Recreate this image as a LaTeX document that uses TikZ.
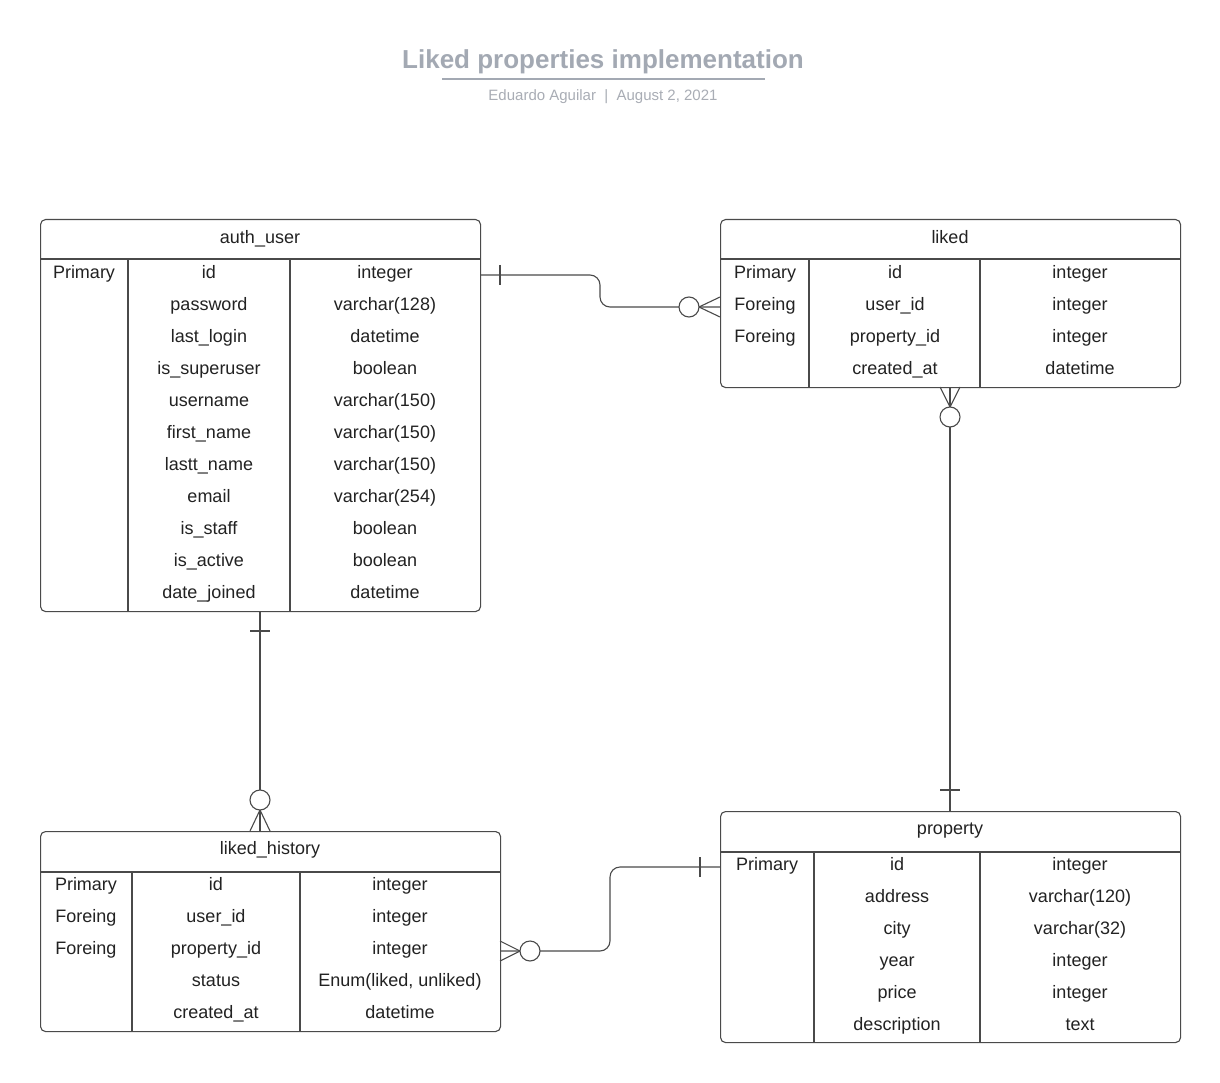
\documentclass[tikz,border=0pt]{standalone}
\usepackage{fontspec}
\setmainfont{Liberation Sans}
\definecolor{ttl}{HTML}{A3A9B3}
\definecolor{sub}{HTML}{A9ADB5}
\definecolor{ln}{HTML}{4A4A4A}
\definecolor{txc}{HTML}{222222}
\tikzset{
  tbl/.style={draw=ln, line width=1.1pt, rounded corners=5pt, rectangle, inner sep=0pt, anchor=north west, fill=none},
  sep/.style={draw=ln, line width=1.1pt},
  txt/.style={inner sep=0pt, text=txc, text height=12.9pt, text depth=0pt, font=\fontsize{18}{20}\selectfont},
  conn/.style={draw=ln, line width=1.1pt},
  ring/.style={draw=ln, line width=1.1pt, fill=white},
}
\begin{document}
\begin{tikzpicture}[x=1pt,y=-1pt]
\useasboundingbox (0,0) rectangle (1220,1083);
\fill[white] (0,0) rectangle (1220,1083);

% title
\node[inner sep=0pt, text=ttl, text height=18.6pt, text depth=0pt, font=\fontsize{26}{30}\selectfont\bfseries] (title) at (603,59.5) {Liked properties implementation};
\draw[ttl, line width=2pt] (442,79.5) -- (765,79.5);
\node[inner sep=0pt, text=sub, text height=10.7pt, text depth=0pt, font=\fontsize{15}{18}\selectfont] (subtitle) at (603,95) {Eduardo Aguilar \ | \ August 2, 2021};

% ---------- auth_user ----------
\node[tbl, minimum width=440pt, minimum height=392pt] (auth) at (40,219) {};
\draw[sep] (40,259) -- (480,259);
\draw[sep] (128,259) -- (128,611);
\draw[sep] (290,259) -- (290,611);
\node[txt] (auth-h) at (260,237) {auth\_user};
\node[txt] (auth-k1) at (84,272) {Primary};
\foreach \f/\t [count=\i] in {id/integer, password/varchar(128), last\_login/datetime, is\_superuser/boolean, username/varchar(150), first\_name/varchar(150), lastt\_name/varchar(150), email/varchar(254), is\_staff/boolean, is\_active/boolean, date\_joined/datetime}{
  \node[txt] (auth-f\i) at (209,{272+32*(\i-1)}) {\f};
  \node[txt] (auth-t\i) at (385,{272+32*(\i-1)}) {\t};
}

% ---------- liked ----------
\node[tbl, minimum width=460pt, minimum height=168pt] (liked) at (720,219) {};
\draw[sep] (720,259) -- (1180,259);
\draw[sep] (809,259) -- (809,387);
\draw[sep] (980,259) -- (980,387);
\node[txt] (liked-h) at (950,237) {liked};
\node[txt] (liked-k1) at (765,272) {Primary};
\node[txt] (liked-k2) at (765,304) {Foreing};
\node[txt] (liked-k3) at (765,336) {Foreing};
\foreach \f/\t [count=\i] in {id/integer, user\_id/integer, property\_id/integer, created\_at/datetime}{
  \node[txt] (liked-f\i) at (895,{272+32*(\i-1)}) {\f};
  \node[txt] (liked-t\i) at (1080,{272+32*(\i-1)}) {\t};
}

% ---------- liked_history ----------
\node[tbl, minimum width=460pt, minimum height=200pt] (hist) at (40,831) {};
\draw[sep] (40,872) -- (500,872);
\draw[sep] (132,872) -- (132,1031);
\draw[sep] (300,872) -- (300,1031);
\node[txt] (hist-h) at (270,848) {liked\_history};
\node[txt] (hist-k1) at (86,884) {Primary};
\node[txt] (hist-k2) at (86,916) {Foreing};
\node[txt] (hist-k3) at (86,948) {Foreing};
\foreach \f/\t [count=\i] in {id/integer, user\_id/integer, property\_id/integer, status/{Enum(liked, unliked)}, created\_at/datetime}{
  \node[txt] (hist-f\i) at (216,{884+32*(\i-1)}) {\f};
  \node[txt] (hist-t\i) at (400,{884+32*(\i-1)}) {\t};
}

% ---------- property ----------
\node[tbl, minimum width=460pt, minimum height=231pt] (prop) at (720,811) {};
\draw[sep] (720,852) -- (1180,852);
\draw[sep] (814,852) -- (814,1042);
\draw[sep] (980,852) -- (980,1042);
\node[txt] (prop-h) at (950,828) {property};
\node[txt] (prop-k1) at (767,864) {Primary};
\foreach \f/\t [count=\i] in {id/integer, address/varchar(120), city/varchar(32), year/integer, price/integer, description/text}{
  \node[txt] (prop-f\i) at (897,{864+32*(\i-1)}) {\f};
  \node[txt] (prop-t\i) at (1080,{864+32*(\i-1)}) {\t};
}

% ---------- connectors ----------
% auth_user -> liked
\coordinate (c1s) at (auth.east |- 0,275);
\coordinate (c1e) at (liked.west |- 0,307);
\draw[conn, rounded corners=10pt] (c1s) -- (600,275) -- (600,307) -- (c1e);
\draw[conn] (500,265) -- (500,285);
\draw[conn] (699,307) -- (720,297) (699,307) -- (720,317);
\draw[ring] (689,307) circle (10pt);

% liked -> property
\coordinate (c2s) at (950,387);
\coordinate (c2e) at (950,811);
\draw[conn] (c2s) -- (c2e);
\draw[conn] (950,407) -- (940,387) (950,407) -- (960,387);
\draw[ring] (950,417) circle (10pt);
\draw[conn] (940,790) -- (960,790);

% auth_user -> liked_history
\coordinate (c3s) at (260,611);
\coordinate (c3e) at (260,831);
\draw[conn] (c3s) -- (c3e);
\draw[conn] (250,631) -- (270,631);
\draw[conn] (260,810) -- (250,831) (260,810) -- (270,831);
\draw[ring] (260,800) circle (10pt);

% liked_history -> property
\coordinate (c4s) at (hist.east |- 0,951);
\coordinate (c4e) at (prop.west |- 0,867);
\draw[conn, rounded corners=10pt] (c4s) -- (610,951) -- (610,867) -- (c4e);
\draw[conn] (520,951) -- (500,941) (520,951) -- (500,961);
\draw[ring] (530,951) circle (10pt);
\draw[conn] (700,857) -- (700,877);
\end{tikzpicture}
\end{document}
